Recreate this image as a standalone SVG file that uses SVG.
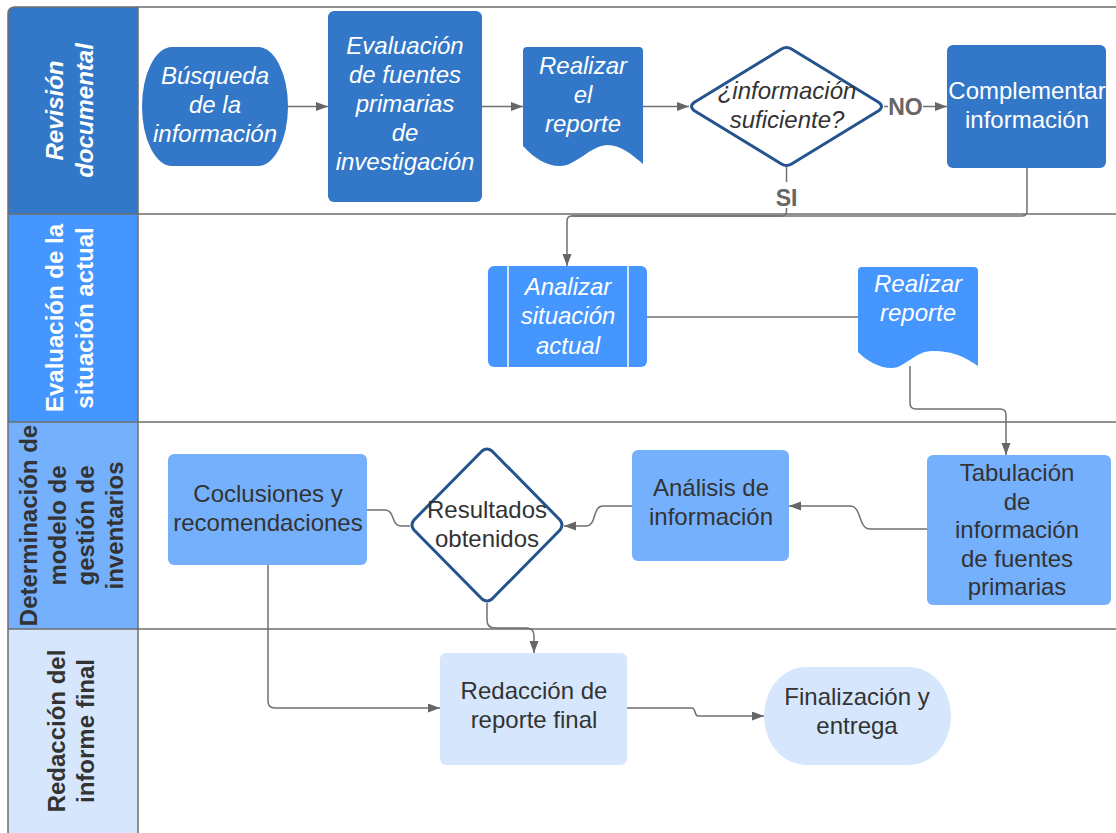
<svg xmlns="http://www.w3.org/2000/svg" width="1116" height="833" viewBox="0 0 1116 833">
  <defs>
    <marker id="arrow" markerUnits="userSpaceOnUse" markerWidth="13" markerHeight="10" refX="12" refY="4.5" orient="auto">
      <path d="M0,0 L12,4.5 L0,9 Z" fill="#666"/>
    </marker>
    <style>
      text { font-family: "Liberation Sans", Arial, sans-serif; font-size: 24px; text-anchor: middle; }
      .hdr { font-weight: bold; }
      .w { fill: #ffffff; }
      .d { fill: #333333; }
      .it { font-style: italic; }
      .lbl { font-weight: bold; fill: #666666; font-size: 23px; }
      .frame { stroke: #6e6e6e; stroke-width: 1.5; fill: none; }
      .c1 { fill: #3277c8; }
      .c2 { fill: #4596fe; }
      .c3 { fill: #75b0fc; }
      .c4 { fill: #d6e7fd; }
      .dec { fill: #ffffff; stroke: #24548e; stroke-width: 3; stroke-linejoin: round; }
      .conn path { fill: none; stroke: #707070; stroke-width: 1.5; }
      .arr { marker-end: url(#arrow); }
    </style>
  </defs>

  <!-- swimlane headers -->
  <g id="lanes">
    <path class="c1" d="M8,214 V14 Q8,7 15,7 H138 V214 Z"/>
    <rect class="c2" x="8" y="214" width="130" height="208"/>
    <rect class="c3" x="8" y="422" width="130" height="207"/>
    <rect class="c4" x="8" y="629" width="130" height="204"/>
    <path class="frame" d="M8,833 V14 Q8,7 15,7 H1116"/>
    <path class="frame" d="M138,7 V833"/>
    <path class="frame" d="M8,214 H1116 M8,422 H1116 M8,629 H1116"/>
    <text class="hdr w it" transform="translate(70,110.5) rotate(-90)"><tspan x="0" y="-6.6">Revisión</tspan><tspan x="0" y="23.4">documental</tspan></text>
    <text class="hdr w" transform="translate(70,318) rotate(-90)"><tspan x="0" y="-6.6">Evaluación de la</tspan><tspan x="0" y="23.4">situación actual</tspan></text>
    <text class="hdr d" transform="translate(70,525.5) rotate(-90)"><tspan x="0" y="-32.6">Determinación de</tspan><tspan x="0" y="-4.1">modelo de</tspan><tspan x="0" y="24.4">gestión de</tspan><tspan x="0" y="52.9">inventarios</tspan></text>
    <text class="hdr d" transform="translate(70,731) rotate(-90)"><tspan x="0" y="-5.1">Redacción del</tspan><tspan x="0" y="24.4">informe final</tspan></text>
  </g>

  <!-- connectors -->
  <g id="connectors" class="conn">
    <path class="arr" d="M288,106.5 H328"/>
    <path class="arr" d="M482,106.5 H523"/>
    <path class="arr" d="M643,106.5 H689"/>
    <path d="M884,106.5 H888"/>
    <path class="arr" d="M923,106.5 H947"/>
    <path d="M786.5,167 V182"/>
    <path d="M786.5,208 V211 Q786.5,216 781.5,216 H572"/>
    <path class="arr" d="M1027,168 V211 Q1027,216 1022,216 H572 Q567,216 567,221 V266"/>
    <path d="M647,317 H858"/>
    <path class="arr" d="M910,366 V403 Q910,409 916,409 H1000 Q1006,409 1006,415 V455"/>
    <path class="arr" d="M927,529 H870 C 858,529 862,506 850,506 H789"/>
    <path class="arr" d="M632,506 H603 C 592,506 597,526 586,526 H564"/>
    <path d="M367,510 H385 C 395,510 391,526 401,526 H410"/>
    <path class="arr" d="M487,603 V620 Q487,628 495,628 H526 Q534,628 534,636 V653"/>
    <path class="arr" d="M268,565 V701 Q268,708 275,708 H440"/>
    <path class="arr" d="M627,708 H692 C 696,708 694,716 698,716 H764"/>
    <text class="lbl" x="905.5" y="114.5">NO</text>
    <text class="lbl" x="786.5" y="205.5">SI</text>
  </g>

  <!-- lane 1 -->
  <g id="busqueda">
    <rect class="c1" x="142" y="47" width="146" height="119" rx="30" ry="59.5"/>
    <text class="w it"><tspan x="215" y="84">Búsqueda</tspan><tspan x="215" y="113">de la</tspan><tspan x="215" y="142">información</tspan></text>
  </g>
  <g id="evaluacion-fuentes">
    <rect class="c1" x="328" y="11" width="154" height="191" rx="6"/>
    <text class="w it"><tspan x="405" y="54">Evaluación</tspan><tspan x="405" y="83">de fuentes</tspan><tspan x="405" y="112">primarias</tspan><tspan x="405" y="141">de</tspan><tspan x="405" y="170">investigación</tspan></text>
  </g>
  <g id="realizar-el-reporte">
    <path class="c1" d="M527,47 H639 Q643,47 643,51 V164 C 632,155 622,145 607,145 C 590,146 576,166 560,166 C 546,166 534,158 523,146 V51 Q523,47 527,47 Z"/>
    <text class="w it"><tspan x="583" y="74">Realizar</tspan><tspan x="583" y="103">el</tspan><tspan x="583" y="132">reporte</tspan></text>
  </g>
  <g id="informacion-suficiente">
    <path class="dec" d="M781.5,49 Q786.5,46 791.5,49 L879,102.5 Q884,106.5 879,110.5 L791.5,164 Q786.5,167 781.5,164 L694,110.5 Q689,106.5 694,102.5 Z"/>
    <text class="d it"><tspan x="787" y="99">¿información</tspan><tspan x="787" y="128">suficiente?</tspan></text>
  </g>
  <g id="complementar">
    <rect class="c1" x="947" y="45" width="159" height="123" rx="6"/>
    <text class="w"><tspan x="1027" y="99">Complementar</tspan><tspan x="1027" y="128">información</tspan></text>
  </g>

  <!-- lane 2 -->
  <g id="analizar">
    <rect class="c2" x="488" y="266" width="159" height="101" rx="6"/>
    <path d="M508,266 V367 M628,266 V367" stroke="#ffffff" stroke-width="1.5"/>
    <text class="w it"><tspan x="568" y="294.5">Analizar</tspan><tspan x="568" y="324">situación</tspan><tspan x="568" y="353.5">actual</tspan></text>
  </g>
  <g id="realizar-reporte">
    <path class="c2" d="M862,267 H974 Q978,267 978,271 V366 C 966,358 955,351 932,351 C 915,351 905,368 892,368 C 878,368 866,360 858,352 V271 Q858,267 862,267 Z"/>
    <text class="w it"><tspan x="918" y="292">Realizar</tspan><tspan x="918" y="321">reporte</tspan></text>
  </g>

  <!-- lane 3 -->
  <g id="tabulacion">
    <rect class="c3" x="927" y="455" width="184" height="150" rx="6"/>
    <text class="d"><tspan x="1017" y="481">Tabulación</tspan><tspan x="1017" y="510">de</tspan><tspan x="1017" y="538">información</tspan><tspan x="1017" y="567">de fuentes</tspan><tspan x="1017" y="595">primarias</tspan></text>
  </g>
  <g id="analisis">
    <rect class="c3" x="632" y="450" width="157" height="111" rx="6"/>
    <text class="d"><tspan x="711" y="496">Análisis de</tspan><tspan x="711" y="525">información</tspan></text>
  </g>
  <g id="resultados">
    <path class="dec" d="M482,451 Q487,447 492,451 L560,520 Q564,525 560,530 L492,599 Q487,603 482,599 L414,530 Q410,525 414,520 Z"/>
    <text class="d"><tspan x="487" y="518">Resultados</tspan><tspan x="487" y="547">obtenidos</tspan></text>
  </g>
  <g id="conclusiones">
    <rect class="c3" x="168" y="454" width="199" height="111" rx="6"/>
    <text class="d"><tspan x="268" y="502">Coclusiones y</tspan><tspan x="268" y="531">recomendaciones</tspan></text>
  </g>

  <!-- lane 4 -->
  <g id="redaccion">
    <rect class="c4" x="440" y="653" width="187" height="112" rx="6"/>
    <text class="d"><tspan x="534" y="699">Redacción de</tspan><tspan x="534" y="728">reporte final</tspan></text>
  </g>
  <g id="finalizacion">
    <rect class="c4" x="764" y="667" width="187" height="98" rx="42" ry="49"/>
    <text class="d"><tspan x="857" y="705">Finalización y</tspan><tspan x="857" y="734">entrega</tspan></text>
  </g>
</svg>
